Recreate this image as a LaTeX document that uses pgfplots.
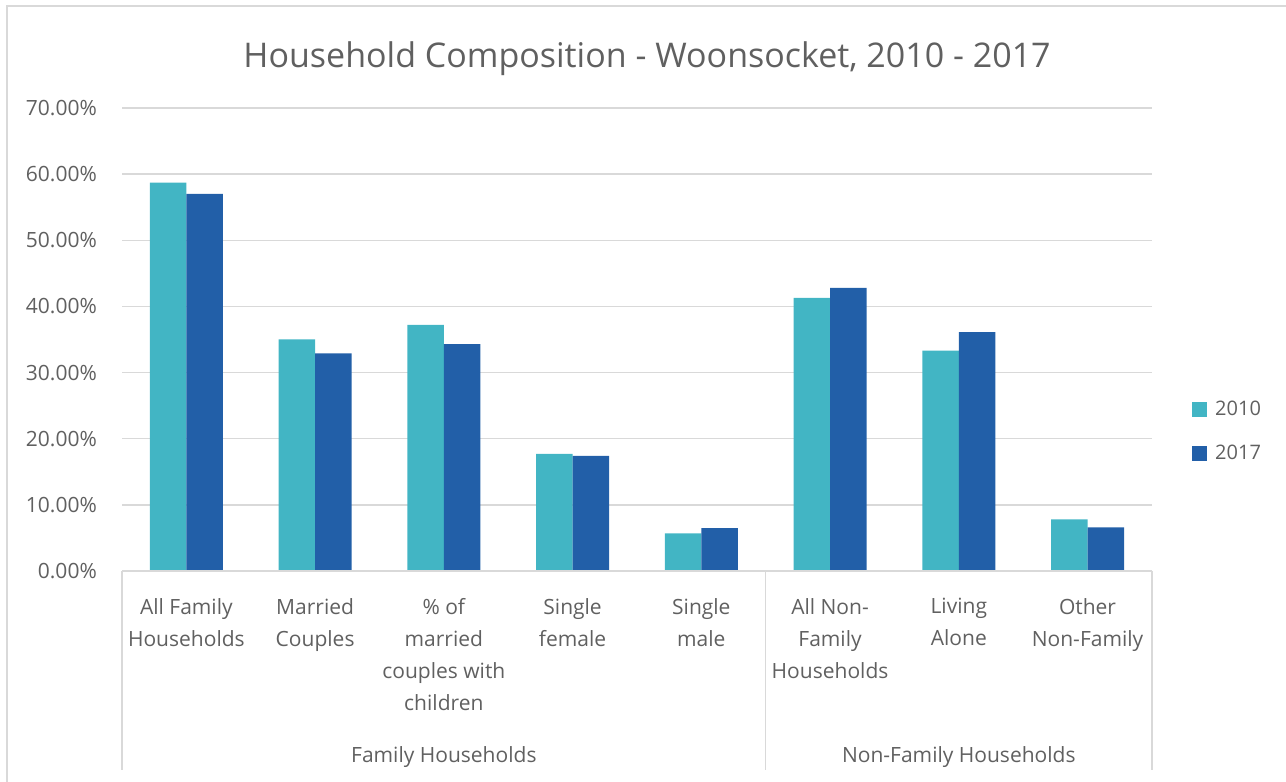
\documentclass[border=0pt]{standalone}
\usepackage{fontspec}
\setmainfont{Open Sans}
\usepackage{pgfplots}
\pgfplotsset{compat=1.18}
\definecolor{cteal}{HTML}{42B5C4}
\definecolor{cblue}{HTML}{225FA8}
\definecolor{tgray}{HTML}{606060}
\definecolor{lgray}{HTML}{D9D9D9}
\begin{document}
\begin{tikzpicture}[x=1pt,y=1pt]
\path[use as bounding box] (0,0) rectangle (1286,782);
\draw[lgray, line width=1.5pt] (7,0) -- (7,776) -- (1286,776);
\node[anchor=base, text=tgray, font=\fontsize{34}{40}\selectfont] at (647,714) {Household Composition - Woonsocket, 2010 - 2017};
\begin{axis}[
  at={(122pt,211pt)}, anchor=south west, scale only axis,
  width=1030pt, height=463pt,
  xmin=-0.5, xmax=7.5, ymin=0, ymax=70,
  enlargelimits=false, clip=false,
  ybar=0pt, bar width=36.5pt,
  xtick={0,...,7},
  xticklabels={{All Family\\Households},{Married\\Couples},{\% of\\married\\couples with\\children},{Single\\female},{Single\\male},{All Non-\\Family\\Households},{Living\\Alone},{Other\\Non-Family}},
  xticklabel style={align=center, font=\fontsize{21}{32}\selectfont, text=tgray, anchor=north, inner sep=0pt, yshift=-27pt},
  ytick={0,10,...,70},
  ymajorgrids, grid style={lgray, line width=1.3pt},
  axis line style={draw=none}, major tick length=0pt,
  /pgf/number format/assume math mode=true,
  yticklabel={\pgfmathprintnumber[fixed,fixed zerofill,precision=2]{\tick}\%},
  yticklabel style={font=\fontsize{21}{25}\selectfont, text=tgray, anchor=east, inner sep=0pt, xshift=-25pt},
  legend style={at={(1.036,0.302)}, anchor=west, draw=none, fill=none, font=\fontsize{20}{24}\selectfont, text=tgray, row sep=24pt},
  legend cell align=left,
  legend image code/.code={\fill[#1] (0pt,-7.5pt) rectangle (15pt,7.5pt); \path (21pt,0pt);},
]
\addplot[fill=cteal, draw=none] coordinates {(0,58.7) (1,35.0) (2,37.2) (3,17.7) (4,5.7) (5,41.3) (6,33.3) (7,7.8)};
\addlegendentry{2010}
\addplot[fill=cblue, draw=none] coordinates {(0,57.0) (1,32.9) (2,34.3) (3,17.4) (4,6.5) (5,42.8) (6,36.1) (7,6.6)};
\addlegendentry{2017}
\draw[lgray, line width=1.3pt] (rel axis cs:0,0) -- (rel axis cs:1,0);
\draw[lgray, line width=1.3pt] (axis cs:-0.5,0) -- ++(0pt,-199pt);
\draw[lgray, line width=1.3pt] (axis cs:4.5,0) -- ++(0pt,-199pt);
\draw[lgray, line width=1.3pt] (axis cs:7.5,0) -- ++(0pt,-199pt);
\node[anchor=base, text=tgray, font=\fontsize{21}{25}\selectfont] at ([yshift=-191pt]axis cs:2,0) {Family Households};
\node[anchor=base, text=tgray, font=\fontsize{21}{25}\selectfont] at ([yshift=-191pt]axis cs:6,0) {Non-Family Households};
\end{axis}
\end{tikzpicture}
\end{document}
